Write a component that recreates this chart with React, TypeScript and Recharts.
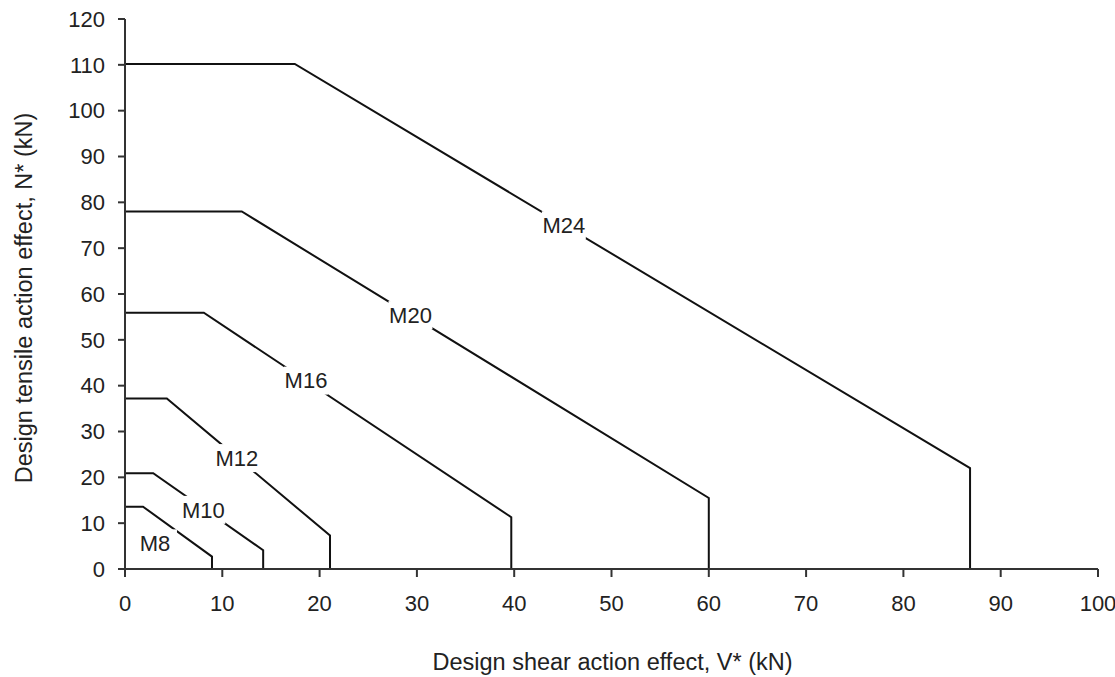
import React from 'react';
import { ComposedChart, Line, XAxis, YAxis, Scatter, Label } from 'recharts';

const xTicks = [0, 10, 20, 30, 40, 50, 60, 70, 80, 90, 100];
const yTicks = [0, 10, 20, 30, 40, 50, 60, 70, 80, 90, 100, 110, 120];

const m8 = [
  { x: 0, y: 13.6 },
  { x: 1.85, y: 13.6 },
  { x: 8.94, y: 2.7 },
  { x: 8.94, y: 0 },
];
const m10 = [
  { x: 0, y: 20.9 },
  { x: 2.9, y: 20.9 },
  { x: 14.2, y: 4.1 },
  { x: 14.2, y: 0 },
];
const m12 = [
  { x: 0, y: 37.2 },
  { x: 4.3, y: 37.2 },
  { x: 21.07, y: 7.3 },
  { x: 21.07, y: 0 },
];
const m16 = [
  { x: 0, y: 55.9 },
  { x: 8.1, y: 55.9 },
  { x: 39.7, y: 11.3 },
  { x: 39.7, y: 0 },
];
const m20 = [
  { x: 0, y: 78 },
  { x: 12.0, y: 78 },
  { x: 60.0, y: 15.5 },
  { x: 60.0, y: 0 },
];
const m24 = [
  { x: 0, y: 110.2 },
  { x: 17.45, y: 110.2 },
  { x: 86.85, y: 22 },
  { x: 86.85, y: 0 },
];

const boltLabels = [
  { x: 3.08, y: 5.6, name: 'M8' },
  { x: 8.05, y: 12.9, name: 'M10' },
  { x: 11.5, y: 24.2, name: 'M12' },
  { x: 18.6, y: 41.1, name: 'M16' },
  { x: 29.34, y: 55.4, name: 'M20' },
  { x: 45.1, y: 75.0, name: 'M24' },
];

const series = [m8, m10, m12, m16, m20, m24];

const FONT = "'Liberation Sans', Arial, sans-serif";
const TEXT = '#222';
const AXIS = '#333';

const renderBoltLabel = (props: any) => {
  const { cx, cy, payload } = props;
  if (cx == null || cy == null) return null;
  const w = 44;
  const h = 28;
  return (
    <g>
      <rect x={cx - w / 2} y={cy - h / 2} width={w} height={h} fill="#fff" />
      <text
        x={cx}
        y={cy}
        dy="0.355em"
        textAnchor="middle"
        fontFamily={FONT}
        fontSize={22}
        fill={TEXT}
      >
        {payload.name}
      </text>
    </g>
  );
};

const renderXTitle = (props: any) => {
  const vb = props.viewBox || {};
  const cx = vb.x + vb.width / 2 + 1;
  const y = vb.y + 101;
  return (
    <text x={cx} y={y} textAnchor="middle" fontFamily={FONT} fontSize={23.5} fill={TEXT}>
      Design shear action effect, V* (kN)
    </text>
  );
};

const renderYTitle = (props: any) => {
  const vb = props.viewBox || {};
  const x = vb.x + 32;
  const cy = vb.y + vb.height / 2 + 4;
  return (
    <text
      x={x}
      y={cy}
      transform={`rotate(-90, ${x}, ${cy})`}
      textAnchor="middle"
      fontFamily={FONT}
      fontSize={23.5}
      fill={TEXT}
    >
      Design tensile action effect, N* (kN)
    </text>
  );
};

export default function App() {
  return (
    <div style={{ position: 'absolute', left: 0, top: 0, background: '#fff' }}>
      <ComposedChart width={1115} height={677} margin={{ top: 19, right: 17, left: 0, bottom: 0 }}>
        <XAxis
          type="number"
          dataKey="x"
          domain={[0, 100]}
          ticks={xTicks}
          interval={0}
          height={108}
          tickSize={8}
          tickMargin={18}
          axisLine={{ stroke: AXIS, strokeWidth: 2 }}
          tickLine={{ stroke: AXIS, strokeWidth: 2 }}
          tick={{ fill: TEXT, fontSize: 22, fontFamily: FONT }}
          allowDataOverflow
        >
          <Label content={renderXTitle} />
        </XAxis>
        <YAxis
          type="number"
          domain={[0, 120]}
          ticks={yTicks}
          interval={0}
          width={125}
          tickSize={7}
          tickMargin={13}
          axisLine={{ stroke: AXIS, strokeWidth: 2 }}
          tickLine={{ stroke: AXIS, strokeWidth: 2 }}
          tick={{ fill: TEXT, fontSize: 22, fontFamily: FONT }}
          allowDataOverflow
        >
          <Label content={renderYTitle} />
        </YAxis>
        {series.map((d, i) => (
          <Line
            key={i}
            data={d}
            dataKey="y"
            type="linear"
            stroke="#111"
            strokeWidth={2}
            dot={false}
            activeDot={false}
            isAnimationActive={false}
          />
        ))}
        <Scatter data={boltLabels} dataKey="y" shape={renderBoltLabel} isAnimationActive={false} />
      </ComposedChart>
    </div>
  );
}
